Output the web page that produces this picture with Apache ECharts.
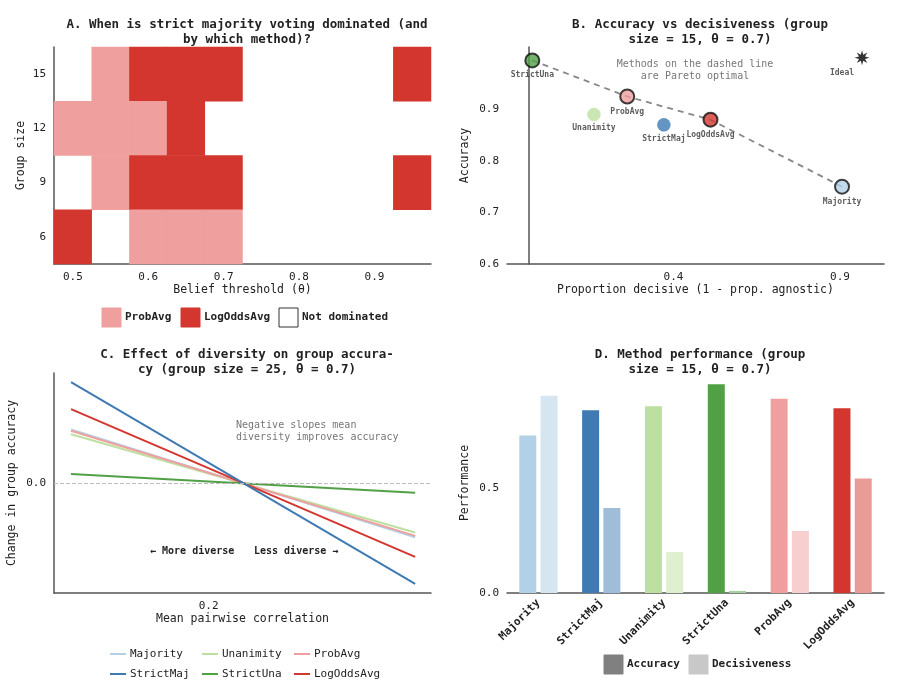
<!DOCTYPE html><html><head><meta charset="utf-8"><script src="https://cdn.jsdelivr.net/npm/echarts@6/dist/echarts.min.js"></script>
<style>body{margin:0;background:#fff}#c{width:900px;height:698px}</style></head><body><div id="c"></div><script>
const thresholds=['0.5','0.55','0.6','0.65','0.7','0.75','0.8','0.85','0.9','0.95'];
const groupSizes=['6','9','12','15'];
// [thresholdIndex, groupSizeIndex, 1=ProbAvg 2=LogOddsAvg]
const dominated=[[1,3,1],[2,3,2],[3,3,2],[4,3,2],[9,3,2],
 [0,2,1],[1,2,1],[2,2,1],[3,2,2],
 [1,1,1],[2,1,2],[3,1,2],[4,1,2],[9,1,2],
 [0,0,2],[2,0,1],[3,0,1],[4,0,1]];
const methods=['Majority','StrictMaj','Unanimity','StrictUna','ProbAvg','LogOddsAvg'];
const colors=['#b3d1e6','#3f7ab3','#bde0a0','#51a046','#ef9f9d','#d3362e'];
const lightColors=['#d6e6f1','#9fbcd9','#def0d0','#a8d0a2','#f7cfce','#e99b97'];
const accuracy=[0.75,0.87,0.89,0.995,0.925,0.88];
const decisiveness=[0.94,0.405,0.195,0.01,0.295,0.545];
const pareto=['StrictUna','ProbAvg','LogOddsAvg','Majority'];
const corrX=[0,0.5];
const diversityStart=[0.077,0.145,0.07,0.013,0.075,0.106];
const diversityEnd=[-0.078,-0.145,-0.071,-0.014,-0.076,-0.106];
const F='DejaVu Sans Mono';
const ax={axisLine:{lineStyle:{color:'#555',width:1.5}},axisTick:{show:false},splitLine:{show:false},axisLabel:{color:'#222',fontFamily:F,fontSize:11},nameTextStyle:{color:'#222',fontFamily:F,fontSize:11.5},nameLocation:'middle'};
function A(o){return Object.assign({},JSON.parse(JSON.stringify(ax)),o);}
const grids=[{left:54,top:47,width:377,height:217},{left:507,top:47,width:377,height:217},{left:54,top:373,width:377,height:220},{left:507,top:373,width:377,height:220}];
const series=[];
series.push({type:'heatmap',xAxisIndex:0,yAxisIndex:0,data:dominated});
// B
const pts=methods.map((m,i)=>({name:m,value:[decisiveness[i],accuracy[i]],itemStyle:{color:colors[i],borderColor:pareto.includes(m)?'#111':colors[i],borderWidth:pareto.includes(m)?2:0.5},symbolSize:pareto.includes(m)?14:13}));
const parOrder=pareto.map(p=>methods.indexOf(p));
series.push({type:'line',xAxisIndex:1,yAxisIndex:1,data:parOrder.map(i=>[decisiveness[i],accuracy[i]]),symbol:'none',lineStyle:{color:'#888',type:[6,5],width:1.8},z:1});
const labOff={Majority:[0,8],StrictMaj:[0,8],Unanimity:[0,8],StrictUna:[0,8],ProbAvg:[0,6],LogOddsAvg:[0,6]};
series.push({type:'scatter',xAxisIndex:1,yAxisIndex:1,data:pts,z:3,label:{show:true,position:'bottom',formatter:'{b}',fontFamily:F,fontSize:8,fontWeight:'bold',color:'#333',distance:3}});
series.push({type:'scatter',xAxisIndex:1,yAxisIndex:1,data:[{name:'Ideal',value:[1,1]}],symbol:'path://M50,0 L58,30 L85,15 L70,42 L100,50 L70,58 L85,85 L58,70 L50,100 L42,70 L15,85 L30,58 L0,50 L30,42 L15,15 L42,30 Z',symbolSize:15,itemStyle:{color:'#000'},label:{show:true,position:'bottom',formatter:'{b}',fontFamily:F,fontSize:8,fontWeight:'bold',color:'#333',distance:4,offset:[-20,0]}});
// C
const cOrder=[0,2,4,3,5,1];
cOrder.forEach(i=>series.push({type:'line',name:methods[i],xAxisIndex:2,yAxisIndex:2,data:[[corrX[0],diversityStart[i]],[corrX[1],diversityEnd[i]]],symbol:'none',lineStyle:{color:colors[i],width:2},z:2,
 markLine:i===0?{silent:true,symbol:'none',label:{show:false},lineStyle:{color:'#bbb',type:'dashed',width:1},data:[{yAxis:0}]}:undefined}));
// D
series.push({type:'bar',xAxisIndex:3,yAxisIndex:3,data:accuracy.map((v,i)=>({value:v,itemStyle:{color:colors[i]}})),barWidth:17,barGap:'25%'});
series.push({type:'bar',xAxisIndex:3,yAxisIndex:3,data:decisiveness.map((v,i)=>({value:v,itemStyle:{color:lightColors[i]}})),barWidth:17});
const tt={fontFamily:F,fontSize:12.5,fontWeight:'bold',color:'#222',lineHeight:15};
const g=[];
function sq(x,y,c,t,border){g.push({type:'rect',shape:{x:x,y:y,width:19,height:19},style:{fill:c,stroke:border||c,lineWidth:1}});g.push({type:'text',x:x+23,y:y+4,style:{text:t,font:'bold 11px "DejaVu Sans Mono"',fill:'#222'}});}
sq(102,308,'#ef9f9d','ProbAvg');sq(181,308,'#d3362e','LogOddsAvg');sq(279,308,'#fff','Not dominated','#333');
sq(604,655,'#808080','Accuracy');sq(689,655,'#c8c8c8','Decisiveness');
const legC=[[0,110,649],[2,202,649],[4,294,649],[1,110,669],[3,202,669],[5,294,669]];
legC.forEach(([i,x,y])=>{g.push({type:'line',shape:{x1:x,y1:y+5,x2:x+16,y2:y+5},style:{stroke:colors[i],lineWidth:2}});g.push({type:'text',x:x+20,y:y,style:{text:methods[i],font:'11px "DejaVu Sans Mono"',fill:'#222'}});});
g.push({type:'text',x:695,y:58,style:{text:'Methods on the dashed line\nare Pareto optimal',font:'10px "DejaVu Sans Mono"',fill:'#777',align:'center',lineHeight:12}});
g.push({type:'text',x:236,y:419,style:{text:'Negative slopes mean\ndiversity improves accuracy',font:'10px "DejaVu Sans Mono"',fill:'#777',lineHeight:12}});
g.push({type:'text',x:150,y:546,style:{text:'← More diverse',font:'bold 10px "DejaVu Sans Mono"',fill:'#222'}});
g.push({type:'text',x:254,y:546,style:{text:'Less diverse →',font:'bold 10px "DejaVu Sans Mono"',fill:'#222'}});
const opt={animation:false,textStyle:{fontFamily:F},
 title:[{text:'A. When is strict majority voting dominated (and\nby which method)?',left:242,top:12,textAlign:'center',textStyle:tt},
 {text:'B. Accuracy vs decisiveness (group\nsize = 15, θ = 0.7)',left:695,top:12,textAlign:'center',textStyle:tt},
 {text:'C. Effect of diversity on group accura-\ncy (group size = 25, θ = 0.7)',left:242,top:342,textAlign:'center',textStyle:tt},
 {text:'D. Method performance (group\nsize = 15, θ = 0.7)',left:695,top:342,textAlign:'center',textStyle:tt}],
 grid:grids,
 visualMap:{show:false,type:'piecewise',seriesIndex:0,dimension:2,pieces:[{value:1,color:'#ef9f9d'},{value:2,color:'#d3362e'}]},
 xAxis:[A({type:'category',gridIndex:0,data:thresholds,name:'Belief threshold (θ)',nameGap:20,axisLabel:Object.assign({},ax.axisLabel,{interval:1})}),
  A({type:'value',gridIndex:1,min:-0.066,max:1.066,interval:0.5,name:'Proportion decisive (1 - prop. agnostic)',nameGap:20,axisLabel:Object.assign({},ax.axisLabel,{showMinLabel:false,showMaxLabel:false,formatter:v=>v.toFixed(1)}),splitNumber:2,axisLine:{onZero:false,lineStyle:{color:'#555',width:1.5}}}),
  A({type:'value',gridIndex:2,min:-0.0247,max:0.523,name:'Mean pairwise correlation',nameGap:20,axisLabel:Object.assign({},ax.axisLabel,{showMinLabel:false,showMaxLabel:false,customValues:[0,0.2,0.4],formatter:v=>v.toFixed(1)}),axisLine:{onZero:false,lineStyle:{color:'#555',width:1.5}}}),
  A({type:'category',gridIndex:3,data:methods,axisLabel:Object.assign({},ax.axisLabel,{rotate:45,interval:0,fontWeight:'bold'})})],
 yAxis:[A({type:'category',gridIndex:0,data:groupSizes,name:'Group size',nameGap:27}),
  A({type:'value',gridIndex:1,min:0.6,max:1.021,name:'Accuracy',nameGap:36,axisLabel:Object.assign({},ax.axisLabel,{showMaxLabel:false,customValues:[0.6,0.7,0.8,0.9,1.0],formatter:v=>v.toFixed(1)})}),
  A({type:'value',gridIndex:2,min:-0.158,max:0.158,name:'Change in group accuracy',nameGap:36,axisLabel:Object.assign({},ax.axisLabel,{showMinLabel:false,showMaxLabel:false,customValues:[-0.1,0,0.1],formatter:v=>v.toFixed(1)}),axisLine:{onZero:false,lineStyle:{color:'#555',width:1.5}}}),
  A({type:'value',gridIndex:3,min:0,max:1.048,name:'Performance',nameGap:36,axisLabel:Object.assign({},ax.axisLabel,{showMaxLabel:false,customValues:[0,0.5,1.0],formatter:v=>v.toFixed(1)})})],
 series:series,graphic:g};
echarts.init(document.getElementById('c')).setOption(opt);
</script></body></html>
